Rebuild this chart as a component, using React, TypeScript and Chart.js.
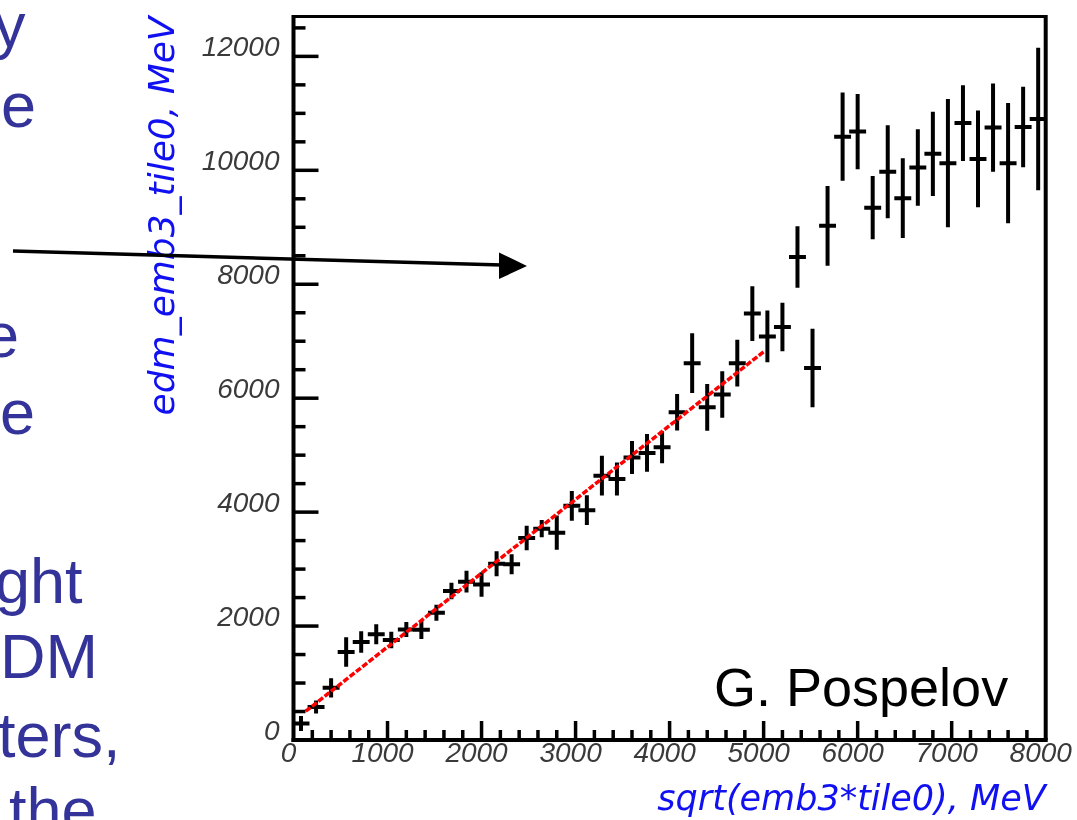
import React, { useEffect, useRef } from "react";
import { Chart, registerables } from "chart.js";

Chart.register(...registerables);

// ---- data ----
const binCenters = [
  80, 240, 400, 560, 720, 880, 1040, 1200, 1360, 1520,
  1680, 1840, 2000, 2160, 2320, 2480, 2640, 2800, 2960, 3120,
  3280, 3440, 3600, 3760, 3920, 4080, 4240, 4400, 4560, 4720,
  4880, 5040, 5200, 5360, 5520, 5680, 5840, 6000, 6160, 6320,
  6480, 6640, 6800, 6960, 7120, 7280, 7440, 7600, 7760, 7920,
];
const meanValues = [
  290, 580, 915, 1545, 1720, 1855, 1755, 1940, 1935, 2235,
  2615, 2780, 2730, 3095, 3085, 3545, 3710, 3640, 4110, 4035,
  4640, 4580, 4960, 5040, 5140, 5755, 6615, 5840, 6065, 6615,
  7485, 7085, 7250, 8480, 6530, 9025, 10590, 10680, 9345, 9975,
  9510, 10050, 10290, 10125, 10830, 10200, 10750, 10125, 10760, 10900,
];
const meanErrors = [
  130, 115, 170, 260, 190, 175, 145, 130, 160, 140,
  145, 190, 215, 220, 175, 215, 150, 300, 260, 260,
  350, 290, 290, 330, 280, 320, 525, 410, 410, 410,
  480, 455, 425, 540, 690, 700, 775, 660, 555, 815,
  700, 670, 740, 1125, 665, 850, 775, 1055, 705, 1250,
];
const binHalfWidth = 90;
const fitLineX = [130, 5000];
const fitLineY = [505, 6815];

const xTickValues = [0, 1000, 2000, 3000, 4000, 5000, 6000, 7000, 8000];
const yTickValues = [0, 2000, 4000, 6000, 8000, 10000, 12000];
const xMinorStep = 200;
const yMinorStep = 500;
const xRange = [0, 8000];
const yRange = [0, 12700];

const xTitle = "sqrt(emb3*tile0), MeV";
const yTitle = "edm_emb3_tile0, MeV";
const authorText = "G. Pospelov";

const slideLines = [
  { text: "y", left: -6, baseline: 47 },
  { text: "e", left: 1, baseline: 127 },
  { text: "e", left: -16, baseline: 357 },
  { text: "e", left: 0, baseline: 434 },
  { text: "ght", left: -5, baseline: 603 },
  { text: "DM", left: 0, baseline: 678 },
  { text: "ters,", left: -2, baseline: 757 },
  { text: "the", left: 9, baseline: 832 },
];

const W = 1077;
const H = 820;

const frameAndTicks = {
  id: "frameAndTicks",
  afterDraw(chart: any) {
    const { ctx, chartArea } = chart;
    const { left, right, top, bottom } = chartArea;
    const xs = chart.scales.x;
    const ys = chart.scales.y;
    ctx.save();
    ctx.strokeStyle = "#000";
    ctx.lineCap = "butt";
    ctx.lineWidth = 3.5;
    for (let v = yRange[0] + yMinorStep; v <= yRange[1]; v += yMinorStep) {
      const y = ys.getPixelForValue(v);
      const major = yTickValues.includes(v);
      ctx.beginPath();
      ctx.moveTo(left, y);
      ctx.lineTo(left + (major ? 25 : 12), y);
      ctx.stroke();
    }
    for (let v = xRange[0] + xMinorStep; v < xRange[1]; v += xMinorStep) {
      const x = xs.getPixelForValue(v);
      const major = xTickValues.includes(v);
      ctx.beginPath();
      ctx.moveTo(x, bottom);
      ctx.lineTo(x, bottom - (major ? 19 : 10));
      ctx.stroke();
    }
    ctx.lineWidth = 3;
    ctx.beginPath();
    ctx.moveTo(left, top);
    ctx.lineTo(right, top);
    ctx.stroke();
    ctx.lineWidth = 4;
    ctx.beginPath();
    ctx.moveTo(right, top - 1.5);
    ctx.lineTo(right, bottom);
    ctx.stroke();
    ctx.beginPath();
    ctx.moveTo(left, top - 1.5);
    ctx.lineTo(left, bottom + 2);
    ctx.stroke();
    ctx.beginPath();
    ctx.moveTo(left - 2, bottom);
    ctx.lineTo(right + 2, bottom);
    ctx.stroke();
    ctx.restore();
  },
};

function ChartCanvas() {
  const ref = useRef<HTMLCanvasElement | null>(null);
  useEffect(() => {
    if (!ref.current) return;
    const crossPoints: any[] = [];
    binCenters.forEach((x, i) => {
      const y = meanValues[i];
      const e = meanErrors[i];
      crossPoints.push(
        { x, y: y - e },
        { x, y: y + e },
        { x, y: null },
        { x: x - binHalfWidth, y },
        { x: x + binHalfWidth, y },
        { x, y: null }
      );
    });
    const fitPoints = fitLineX.map((x, i) => ({ x, y: fitLineY[i] }));
    const tickFont = { family: "'Liberation Sans', Arial, sans-serif", size: 28, style: "italic" as const, lineHeight: 1 };
    const titleFont = { family: "'DejaVu Sans', sans-serif", style: "italic" as const, lineHeight: 1.1 };
    const chart = new Chart(ref.current, {
      type: "line",
      data: {
        datasets: [
          {
            label: "fit",
            data: fitPoints,
            borderColor: "#ff0000",
            borderWidth: 3.5,
            borderDash: [6, 2],
            pointRadius: 0,
            tension: 0,
            fill: false,
          },
          {
            label: "profile",
            data: crossPoints,
            borderColor: "#000000",
            borderWidth: 4,
            pointRadius: 0,
            spanGaps: false,
            tension: 0,
            fill: false,
          },
        ],
      },
      options: {
        responsive: false,
        devicePixelRatio: 1,
        animation: false,
        events: [],
        layout: { padding: { left: 0, right: 31.3, top: 16.5, bottom: 0 } },
        plugins: { legend: { display: false }, tooltip: { enabled: false } },
        scales: {
          x: {
            type: "linear",
            position: "bottom",
            min: xRange[0],
            max: xRange[1],
            grid: { display: false, drawTicks: false },
            border: { display: false },
            afterBuildTicks: (scale: any) => {
              scale.ticks = xTickValues.map((v) => ({ value: v }));
            },
            afterFit: (scale: any) => {
              scale.height = 80;
              scale.paddingLeft = 0;
              scale.paddingRight = 0;
            },
            ticks: {
              font: tickFont,
              color: "#3a3a3a",
              padding: 0,
              labelOffset: -5,
              maxRotation: 0,
              minRotation: 0,
              autoSkip: false,
              callback: (v: any) => String(v),
            },
            title: {
              display: true,
              text: xTitle,
              align: "end",
              color: "#1010f0",
              font: { ...titleFont, size: 35 },
              padding: { top: 0, bottom: 0 },
            },
          },
          y: {
            type: "linear",
            position: "left",
            min: yRange[0],
            max: yRange[1],
            grid: { display: false, drawTicks: false },
            border: { display: false },
            afterBuildTicks: (scale: any) => {
              scale.ticks = yTickValues.map((v) => ({ value: v }));
            },
            afterFit: (scale: any) => {
              scale.width = 293.5;
              scale.paddingTop = 0;
              scale.paddingBottom = 0;
            },
            ticks: {
              font: tickFont,
              color: "#3a3a3a",
              padding: 14,
              labelOffset: -8,
              autoSkip: false,
              callback: (v: any) => String(v),
            },
            title: {
              display: true,
              text: yTitle,
              align: "end",
              color: "#1010f0",
              font: { ...titleFont, size: 36 },
              padding: { top: 145, bottom: 0 },
            },
          },
        },
      },
      plugins: [frameAndTicks],
    } as any);
    return () => chart.destroy();
  }, []);
  return <canvas ref={ref} width={W} height={H} style={{ display: "block", width: W, height: H }} />;
}

export default function App() {
  const slideFont = "'Liberation Sans', Arial, sans-serif";
  return (
    <div style={{ position: "absolute", left: 0, top: 0, width: W, height: H, overflow: "hidden", background: "#fff" }}>
      <ChartCanvas />
      {slideLines.map((l, i) => (
        <div
          key={i}
          style={{
            position: "absolute",
            left: l.left,
            top: l.baseline - 0.8465 * 63,
            fontFamily: slideFont,
            fontSize: 63,
            lineHeight: "63px",
            color: "#333399",
            whiteSpace: "nowrap",
          }}
        >
          {l.text}
        </div>
      ))}
      <div
        style={{
          position: "absolute",
          left: 714,
          top: 706 - 0.8465 * 54,
          fontFamily: slideFont,
          fontSize: 54,
          lineHeight: "54px",
          color: "#000",
          whiteSpace: "nowrap",
        }}
      >
        {authorText}
      </div>
      <svg
        width={W}
        height={H}
        style={{ position: "absolute", left: 0, top: 0, pointerEvents: "none" }}
      >
        <line x1={13} y1={251} x2={502} y2={265} stroke="#000" strokeWidth={3.5} />
        <polygon points="499,252.5 527,266 499,279" fill="#000" />
      </svg>
    </div>
  );
}
